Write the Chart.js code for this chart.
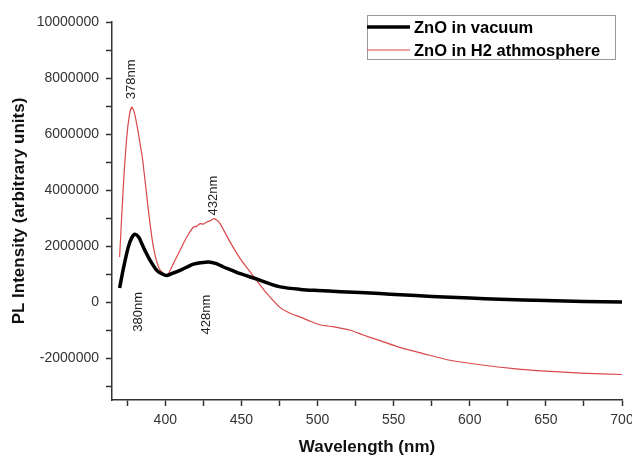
<!DOCTYPE html>
<html>
<head>
<meta charset="utf-8">
<script src="https://cdn.jsdelivr.net/npm/chart.js@4.4.1/dist/chart.umd.min.js"></script>
<style>
  html, body { margin: 0; padding: 0; background: #fff; }
  #wrap { width: 632px; height: 456px; }
</style>
</head>
<body>
<div id="wrap"><canvas id="plot" width="632" height="456"></canvas></div>
<script>
// PL spectra
const vacuumNm = [370, 372.5, 375.7, 378, 380.1, 382.5, 384.5, 387, 390, 394.4, 398, 401, 405, 409.7, 414, 418.5, 423, 428.4, 433, 438.3, 443, 449.2, 454, 459, 467, 475.5, 488.7, 500, 515, 541, 554.5, 575, 600, 620, 650, 675, 700];
const vacuumIntensity = [500000, 1200000, 1960000, 2300000, 2420000, 2320000, 2090000, 1800000, 1490000, 1130000, 1000000, 950000, 1030000, 1130000, 1240000, 1350000, 1400000, 1430000, 1380000, 1250000, 1150000, 1010000, 930000, 840000, 680000, 540000, 450000, 410000, 370000, 300000, 260000, 200000, 140000, 100000, 50000, 20000, 0];

const h2Nm = [370, 372.4, 374.7, 376.5, 378, 379.5, 381.2, 383, 385.2, 388.9, 392.2, 396.1, 401, 405.3, 411.9, 415, 418.5, 420.5, 422.9, 425, 427.3, 429.5, 431.7, 434, 436, 442.6, 449.2, 454, 459, 466.8, 475.5, 482, 488.7, 495, 502, 506, 510, 521.6, 530, 541, 554.5, 570, 587, 608, 629, 650, 673, 700];
const h2Intensity = [1610000, 4100000, 5890000, 6700000, 6960000, 6800000, 6370000, 5800000, 5060000, 3270000, 1960000, 1190000, 950000, 1370000, 2090000, 2400000, 2680000, 2700000, 2800000, 2780000, 2860000, 2900000, 2980000, 2920000, 2800000, 2140000, 1550000, 1200000, 840000, 300000, -200000, -400000, -540000, -680000, -820000, -850000, -880000, -1010000, -1180000, -1380000, -1630000, -1850000, -2080000, -2250000, -2380000, -2470000, -2540000, -2590000];

const seriesLabels = ['ZnO in vacuum', 'ZnO in H2 athmosphere'];

const xTicks = [375, 400, 425, 450, 475, 500, 525, 550, 575, 600, 625, 650, 675, 700];
const yTicks = [-3000000, -2000000, -1000000, 0, 1000000, 2000000, 3000000, 4000000, 5000000, 6000000, 7000000, 8000000, 9000000, 10000000];

const peakText = ['378nm', '432nm', '380nm', '428nm'];
const peakNm = [378, 431.5, 382.5, 427];
const peakY = [7950000, 3800000, -350000, -450000];

const FONT = '"Liberation Sans", Arial, sans-serif';

const pairs = (xs, ys) => xs.map((x, i) => ({ x: x, y: ys[i] }));

const peakLabels = {
  id: 'peakLabels',
  afterDatasetsDraw(chart) {
    const { ctx, scales: { x, y } } = chart;
    ctx.save();
    ctx.font = '13px ' + FONT;
    ctx.fillStyle = '#222';
    ctx.textAlign = 'center';
    ctx.textBaseline = 'middle';
    peakText.forEach((t, i) => {
      ctx.save();
      ctx.translate(x.getPixelForValue(peakNm[i]), y.getPixelForValue(peakY[i]));
      ctx.rotate(-Math.PI / 2);
      ctx.fillText(t, 0, 0);
      ctx.restore();
    });
    ctx.restore();
  }
};

const boxLegend = {
  id: 'boxLegend',
  afterDraw(chart) {
    const { ctx, chartArea } = chart;
    const right = chartArea.right - 7;
    const left = right - 248;
    const top = 15;
    ctx.save();
    ctx.fillStyle = '#fff';
    ctx.fillRect(left, top, right - left, 44);
    ctx.strokeStyle = '#999';
    ctx.lineWidth = 1;
    ctx.strokeRect(left + 0.5, top + 0.5, right - left, 44);
    ctx.font = 'bold 16.5px ' + FONT;
    ctx.textBaseline = 'middle';
    chart.data.datasets.forEach((ds, i) => {
      const yy = top + 12 + i * 23;
      ctx.strokeStyle = ds.borderColor;
      ctx.lineWidth = ds.borderWidth;
      ctx.beginPath();
      ctx.moveTo(left, yy);
      ctx.lineTo(left + 43, yy);
      ctx.stroke();
      ctx.fillStyle = '#000';
      ctx.fillText(ds.label, left + 47, yy + 1);
    });
    ctx.restore();
  }
};

new Chart(document.getElementById('plot'), {
  type: 'line',
  data: {
    datasets: [{
      label: seriesLabels[0],
      data: pairs(vacuumNm, vacuumIntensity),
      borderColor: '#000',
      borderWidth: 3.5,
      pointRadius: 0,
      tension: 0.3
    }, {
      label: seriesLabels[1],
      data: pairs(h2Nm, h2Intensity),
      borderColor: '#d9484a',
      borderWidth: 1.2,
      pointRadius: 0,
      tension: 0.2
    }]
  },
  options: {
    animation: false,
    responsive: false,
    layout: { padding: { top: 22, right: 10, left: 0, bottom: 0 } },
    plugins: { legend: { display: false }, tooltip: { enabled: false } },
    scales: {
      x: {
        type: 'linear',
        min: 365,
        max: 700,
        afterBuildTicks: s => { s.ticks = xTicks.map(v => ({ value: v })); },
        afterFit: s => { s.height = 56; s.paddingLeft = 0; s.paddingRight = 0; },
        grid: { drawOnChartArea: false, tickLength: 6, tickColor: '#333', tickWidth: 1.5 },
        border: { color: '#333', width: 1.5 },
        ticks: {
          autoSkip: false,
          maxRotation: 0,
          padding: 6,
          color: '#333',
          font: { family: FONT, size: 14 },
          callback: v => (v % 50 === 0 ? String(v) : '')
        },
        title: {
          display: true,
          text: 'Wavelength (nm)',
          color: '#111',
          font: { family: FONT, size: 17, weight: 'bold', lineHeight: 1 },
          padding: { top: 0, bottom: 0 }
        }
      },
      y: {
        min: -3500000,
        max: 10000000,
        afterBuildTicks: s => { s.ticks = yTicks.map(v => ({ value: v })); },
        afterFit: s => { s.width = 112; s.paddingTop = 0; s.paddingBottom = 0; },
        grid: { drawOnChartArea: false, tickLength: 6, tickColor: '#333', tickWidth: 1.5 },
        border: { color: '#333', width: 1.5 },
        ticks: {
          padding: 7,
          color: '#333',
          font: { family: FONT, size: 14 },
          callback: v => (v % 2000000 === 0 ? String(v) : '')
        },
        title: {
          display: true,
          text: 'PL Intensity (arbitrary units)',
          color: '#111',
          font: { family: FONT, size: 17, weight: 'bold', lineHeight: 1 },
          padding: { top: 11, bottom: 0 }
        }
      }
    }
  },
  plugins: [peakLabels, boxLegend]
});
</script>
</body>
</html>
